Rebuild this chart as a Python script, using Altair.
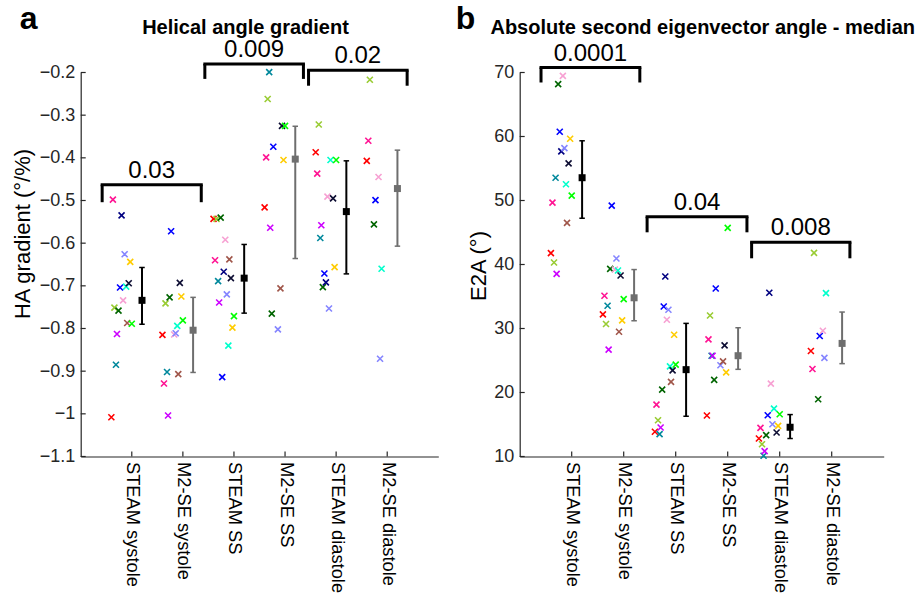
import json
import altair as alt
import pandas as pd

# ---------------------------------------------------------------- data
conditions = ["STEAM systole", "M2-SE systole", "STEAM SS",
              "M2-SE SS", "STEAM diastole", "M2-SE diastole"]
methods = ["STEAM", "M2-SE", "STEAM", "M2-SE", "STEAM", "M2-SE"]

subjects = [f"S{i:02d}" for i in range(1, 16)]
subject_colors = ["#ff0000", "#ff1493", "#99cc33", "#00889c", "#cc00ff",
                  "#006400", "#0000ff", "#000080", "#f7a1d3", "#8585ff",
                  "#00ffcc", "#a0564a", "#0d0d33", "#ffcc00", "#00ff00"]
# horizontal offset of each subject inside its condition (category units)
subject_offset = [-0.40, -0.37, -0.34, -0.31, -0.29, -0.26, -0.23, -0.20,
                  -0.17, -0.14, -0.11, -0.09, -0.06, -0.03, 0.00]

N = None
# HA gradient (deg/%) : one value per subject
ha_steam_systole = [-1.008, -0.498, -0.751, -0.885, -0.813, -0.758, -0.704, -0.535,
                    -0.734, -0.626, -0.702, -0.787, -0.694, -0.644, -0.789]
ha_m2se_systole = [-0.815, -0.929, -0.741, -0.902, -1.004, -0.727, -0.572, N,
                   -0.814, -0.811, -0.794, -0.907, -0.693, -0.725, -0.781]
ha_steam_ss = [-0.543, -0.640, -0.543, -0.689, -0.739, -0.540, -0.914, -0.667,
               -0.592, -0.720, -0.840, -0.638, -0.682, -0.798, -0.771]
ha_m2se_ss = [-0.516, -0.399, -0.262, -0.199, -0.564, -0.765, -0.374, N,
              N, -0.802, N, -0.706, -0.325, -0.405, -0.325]
ha_steam_diastole = [-0.387, -0.437, -0.322, -0.588, -0.558, -0.703, -0.671, -0.692,
                     -0.491, -0.753, -0.405, N, -0.495, -0.656, -0.405]
ha_m2se_diastole = [-0.407, -0.360, -0.217, N, N, -0.556, -0.499, N,
                    -0.445, -0.871, -0.660, N, N, N, N]
ha_median = [-0.734, -0.804, -0.682, -0.403, -0.526, -0.472]
ha_q1 = [-0.790, -0.903, -0.764, -0.636, -0.672, -0.607]
ha_q3 = [-0.657, -0.727, -0.603, -0.326, -0.407, -0.382]
ha_ticks = [-1.1, -1.0, -0.9, -0.8, -0.7, -0.6, -0.5, -0.4, -0.3, -0.2]
ha_br_from = [0.42, 2.43, 4.46]
ha_br_to = [2.36, 4.36, 6.39]
ha_br_top = [-0.463, -0.180, -0.195]
ha_br_foot = [-0.504, -0.215, -0.231]
ha_br_p = ["0.03", "0.009", "0.02"]

# E2A (deg) : one value per subject
e2a_steam_systole = [41.77, 49.66, 40.31, 53.56, 38.54, 68.18, 60.74, 57.67,
                     69.47, 58.19, 52.53, 46.50, 55.81, 59.65, 50.76]
e2a_m2se_systole = [32.20, 35.11, 30.70, 33.55, 26.69, 39.32, 49.20, N,
                    39.21, 40.93, 39.06, 29.50, 38.28, 31.26, 34.60]
e2a_steam_ss = [13.86, 18.11, 15.67, 13.49, 14.53, 20.45, 33.44, 38.12,
                31.37, 32.93, 24.08, 21.65, 23.46, 29.03, 24.35]
e2a_m2se_ss = [16.40, 28.30, 32.04, 25.75, 25.75, 21.97, 36.25, N,
               N, 24.25, N, 24.87, 27.36, 23.15, 45.72]
e2a_steam_diastole = [12.81, 14.48, 11.92, 10.11, 10.83, 13.33, 16.45, 35.58,
                      21.39, 15.04, 17.49, N, 13.75, 14.79, 16.60]
e2a_m2se_diastole = [26.49, 23.68, 41.82, N, N, 18.94, 28.83, N,
                     29.65, 25.40, 35.53, N, N, N, N]
e2a_median = [53.56, 34.80, 23.57, 25.75, 14.57, 27.67]
e2a_q1 = [47.23, 31.21, 16.29, 23.62, 12.81, 24.51]
e2a_q3 = [59.33, 39.21, 30.80, 30.12, 16.55, 32.57]
e2a_ticks = [10, 20, 30, 40, 50, 60, 70]
e2a_br_from = [0.41, 2.45, 4.46]
e2a_br_to = [2.31, 4.37, 6.35]
e2a_br_top = [70.78, 47.46, 43.47]
e2a_br_foot = [68.44, 45.03, 40.97]
e2a_br_p = ["0.0001", "0.04", "0.008"]

# ---------------------------------------------------------------- style
FONT = "Liberation Sans"
AX = "#262626"
X_SHAPE = "M-1,-1L1,1M-1,1L1,-1"
CAP_SHAPE = "M-1,0L1,0"
BAR_SHIFT = 0.2
H = 384
label_expr = json.dumps([""] + conditions) + "[datum.value]"


def points_frame(groups):
    rows = []
    for g, vals in enumerate(groups, start=1):
        for s, v in enumerate(vals):
            if v is None:
                continue
            rows.append({"subject": subjects[s], "condition": conditions[g - 1],
                         "x": g + subject_offset[s], "value": v})
    return pd.DataFrame(rows)


def summary_frame(med, q1, q3):
    return pd.DataFrame({"x": [g + 1 + BAR_SHIFT for g in range(6)],
                         "median": med, "q1": q1, "q3": q3, "method": methods})


def panel(groups, med, q1, q3, ticks, ydomain, br, width, title, title_dx,
          ytitle, ytitle_x, ytitle_y, letter, letter_x):
    xs = alt.Scale(domain=[0, 7], nice=False, zero=False)
    ys = alt.Scale(domain=ydomain, nice=False, zero=False)
    x_axis = alt.Axis(values=[1, 2, 3, 4, 5, 6], labelExpr=label_expr,
                      labelAngle=90, labelAlign="left", labelBaseline="middle",
                      labelPadding=5, ticks=False, grid=False, title=None,
                      labelFlush=False, labelOverlap=False, labelLimit=300,
                      domainColor=AX, domainWidth=1.2, labelColor="#000000",
                      labelFont=FONT, labelFontSize=18.3)
    y_axis = alt.Axis(values=ticks,
                      labelExpr="format(datum.value, '~g')",
                      ticks=False, grid=False, labelPadding=6, labelFlush=False,
                      labelOverlap=False, domainColor=AX, domainWidth=1.2,
                      labelColor=AX, labelFont=FONT, labelFontSize=18,
                      title=ytitle, titleAngle=-90, titleX=ytitle_x, titleY=ytitle_y,
                      titleAlign="center", titleBaseline="middle", titleFont=FONT,
                      titleFontSize=22, titleFontWeight="normal", titleColor="#000000")
    mscale = alt.Scale(domain=["STEAM", "M2-SE"], range=["#000000", "#6e6e6e"])

    def X(f):
        return alt.X(f, scale=xs, axis=x_axis)

    def Y(f):
        return alt.Y(f, scale=ys, axis=y_axis)

    pts = alt.Chart(points_frame(groups)).mark_point(
        shape=X_SHAPE, filled=False, size=36, strokeWidth=1.6, opacity=1
    ).encode(
        x=X("x:Q"), y=Y("value:Q"),
        color=alt.Color("subject:N", scale=alt.Scale(domain=subjects, range=subject_colors),
                        legend=None),
    )

    summ = alt.Chart(summary_frame(med, q1, q3))
    bar = summ.mark_rule(strokeWidth=2).encode(
        x=X("x:Q"), y=Y("q1:Q"), y2="q3:Q",
        stroke=alt.Stroke("method:N", scale=mscale, legend=None))
    cap_lo = summ.mark_point(shape=CAP_SHAPE, size=30, strokeWidth=1.5, opacity=1).encode(
        x=X("x:Q"), y=Y("q1:Q"),
        stroke=alt.Stroke("method:N", scale=mscale, legend=None))
    cap_hi = summ.mark_point(shape=CAP_SHAPE, size=30, strokeWidth=1.5, opacity=1).encode(
        x=X("x:Q"), y=Y("q3:Q"),
        stroke=alt.Stroke("method:N", scale=mscale, legend=None))
    sq = summ.mark_square(size=49, opacity=1).encode(
        x=X("x:Q"), y=Y("median:Q"),
        fill=alt.Fill("method:N", scale=mscale, legend=None))

    bdf = pd.DataFrame({"x1": br[0], "x2": br[1], "top": br[2], "foot": br[3], "p": br[4]})
    bsrc = alt.Chart(bdf)
    b_top = bsrc.mark_rule(strokeWidth=3, color="#000000", strokeCap="square").encode(
        x=X("x1:Q"), x2="x2:Q", y=Y("top:Q"))
    b_l = bsrc.mark_rule(strokeWidth=3, color="#000000").encode(
        x=X("x1:Q"), y=Y("top:Q"), y2="foot:Q")
    b_r = bsrc.mark_rule(strokeWidth=3, color="#000000").encode(
        x=X("x2:Q"), y=Y("top:Q"), y2="foot:Q")
    b_txt = bsrc.transform_calculate(xm="(datum.x1 + datum.x2) / 2").mark_text(
        baseline="alphabetic", align="center", dy=-7, font=FONT, fontSize=24,
        color="#000000").encode(x=X("xm:Q"), y=Y("top:Q"), text="p:N")

    ytk = alt.Chart(pd.DataFrame({"t": ticks})).mark_rule(color=AX, strokeWidth=1.2).encode(
        y=Y("t:Q"), x=alt.value(0), x2=alt.value(5))
    xtk = alt.Chart(pd.DataFrame({"t": [1, 2, 3, 4, 5, 6]})).mark_rule(
        color=AX, strokeWidth=1.2).encode(x=X("t:Q"), y=alt.value(H), y2=alt.value(H - 5))

    let = alt.Chart(pd.DataFrame({"letter": [letter]})).mark_text(
        align="left", baseline="alphabetic", font=FONT, fontSize=32,
        fontWeight="bold", color="#000000").encode(
        x=alt.value(letter_x), y=alt.value(-44), text="letter:N")

    return alt.layer(pts, bar, cap_lo, cap_hi, sq, b_top, b_l, b_r, b_txt, ytk, xtk, let).properties(
        width=width, height=H,
        title=alt.TitleParams(title, font=FONT, fontSize=20, fontWeight="bold",
                              color="#000000", anchor="middle", frame="group",
                              baseline="alphabetic", offset=-51, dx=title_dx),
    )


left = panel([ha_steam_systole, ha_m2se_systole, ha_steam_ss, ha_m2se_ss,
              ha_steam_diastole, ha_m2se_diastole],
             ha_median, ha_q1, ha_q3, ha_ticks, [-1.1, -0.2],
             [ha_br_from, ha_br_to, ha_br_top, ha_br_foot, ha_br_p],
             357.6, "Helical angle gradient", -14,
             "HA gradient (°/%)", -58, 161, "a", -61)
right = panel([e2a_steam_systole, e2a_m2se_systole, e2a_steam_ss, e2a_m2se_ss,
               e2a_steam_diastole, e2a_m2se_diastole],
              e2a_median, e2a_q1, e2a_q3, e2a_ticks, [10, 70],
              [e2a_br_from, e2a_br_to, e2a_br_top, e2a_br_foot, e2a_br_p],
              364, "Absolute second eigenvector angle - median", 1,
              "E2A (°)", -41, 193, "b", -64)

chart = alt.hconcat(left, right, spacing=81, bounds="flush").properties(
    autosize=alt.AutoSizeParams(type="none"),
    padding={"left": 80.7, "top": 72.5, "right": 841.3, "bottom": 521.5},
    background="white",
).configure_view(stroke=None)

chart.save("out.html", embed_options={"renderer": "svg", "actions": False})
